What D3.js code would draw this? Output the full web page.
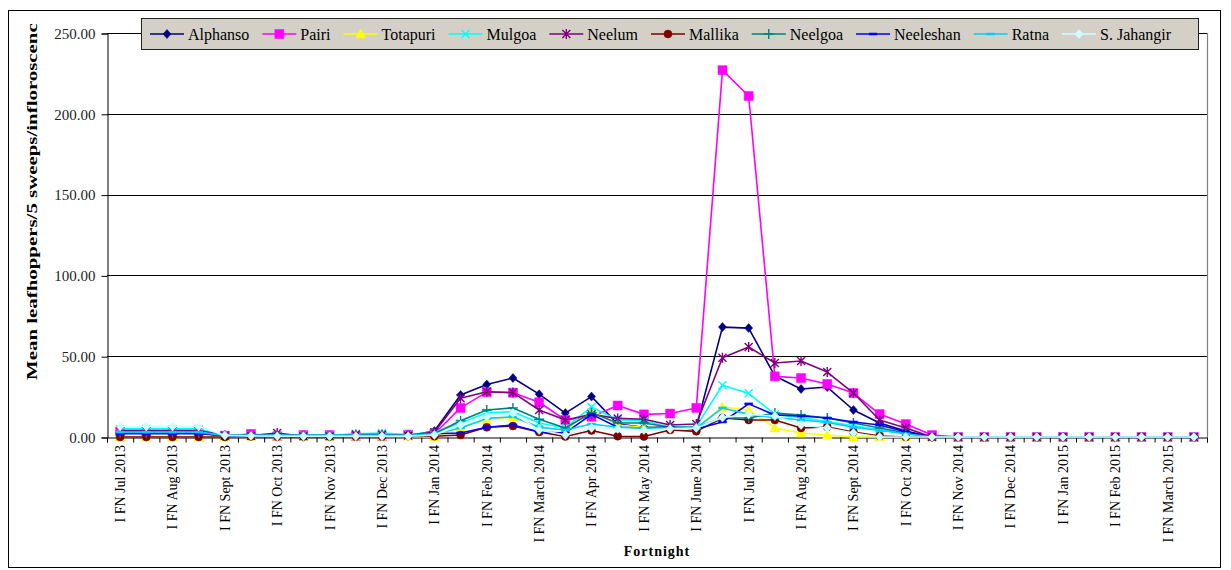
<!DOCTYPE html>
<html><head><meta charset="utf-8">
<script src="https://cdn.jsdelivr.net/npm/d3@7"></script>
<style>
html,body{margin:0;padding:0;background:#fff;}
svg text{font-family:"Times New Roman","Liberation Serif","DejaVu Serif",serif !important;}
</style></head>
<body><svg id="c" width="1231" height="570"></svg>
<script>
const categories = [
 "I FN Jul 2013","II FN Jul 2013","I FN Aug 2013","II FN Aug 2013","I FN Sept 2013","II FN Sept 2013",
 "I FN Oct 2013","II FN Oct 2013","I FN Nov 2013","II FN Nov 2013","I FN Dec 2013","II FN Dec 2013",
 "I FN Jan 2014","II FN Jan 2014","I FN Feb 2014","II FN Feb 2014","I FN March 2014","II FN March 2014",
 "I FN Apr 2014","II FN Apr 2014","I FN May 2014","II FN May 2014","I FN June 2014","II FN June 2014",
 "I FN Jul 2014","II FN Jul 2014","I FN Aug 2014","II FN Aug 2014","I FN Sept 2014","II FN Sept 2014",
 "I FN Oct 2014","II FN Oct 2014","I FN Nov 2014","II FN Nov 2014","I FN Dec 2014","II FN Dec 2014",
 "I FN Jan 2015","II FN Jan 2015","I FN Feb 2015","II FN Feb 2015","I FN March 2015","II FN March 2015"
];
const seriesNames = ["Alphanso","Pairi","Totapuri","Mulgoa","Neelum","Mallika","Neelgoa","Neeleshan","Ratna","S. Jahangir"];
const alphanso  = [2.5,2.5,2.5,2.5,0.5,0.3,0.5,0.3,0.3,0.5,0.5,0.8, 3.7,26,32.5,36.5,26.5,14.8,25,8,6,6,6, 68,67.4,37.7,29.7,30.9,16.7,8.7,3.7,0, 0,0,0,0,0,0,0,0,0,0];
const pairi     = [3.5,3.5,3.5,3.5,0.8,1.9,0.5,1.2,1.2,0.5,0.5,1.5, 2,18,27.8,27.4,21.5,10.5,12.5,19.5,14,14.5,18, 227,211,37.5,36.5,32.8,27.2,14.2,8,1.2, 0,0,0,0,0,0,0,0,0,0];
const totapuri  = [0,0,0,0,0,0.5,0.5,0.5,0.5,0.5,0.5,0.5, 0,6,10.5,12.4,6,4.3,16.7,7.4,6,5.6,5.6, 18.6,16.7,5.6,2.5,1.2,0,0,0,0, 0,0,0,0,0,0,0,0,0,0];
const mulgoa    = [5,5,5,5,1,1,1,1,1,2,2.5,1.5, 3,8.7,15,15.6,8.7,5.6,18.6,10.5,10,6,6.5, 32,27,14,12,9.5,7,4.5,2,0, 0,0,0,0,0,0,0,0,0,0];
const neelum    = [4,4,4,4,1,0.8,2.5,0.5,0.5,1.5,1.5,1, 3,24,28,27.5,16.7,10.5,14,11.5,11,7.4,8, 49,55.7,45.8,47,40.2,27.2,10.5,5.6,0, 0,0,0,0,0,0,0,0,0,0];
const mallika   = [0,0,0,0,0,0.3,0.3,0.3,0.3,0.3,0.3,1, 0.5,1.2,6,6.8,3.1,0.3,4,0.5,0.3,4.3,3.5, 11.8,10.5,10.5,5.6,6.2,3.1,0.6,0,0, 0,0,0,0,0,0,0,0,0,0];
const neelgoa   = [2.5,2.5,2.5,2.5,1,1,1,1,1,1,1,1, 2,10,16.7,18,11,5.6,15,8.7,8.7,6,6, 11.8,11.8,14.8,13.6,11.8,8.7,5.6,2.5,0, 0,0,0,0,0,0,0,0,0,0];
const neeleshan = [2,2,2,2,1,0.5,0.5,0.5,0.5,0.5,0.5,0.5, 2,2.5,6,7.4,3.1,2.5,14,6,5.6,6,5, 9.3,20.5,13.6,13,11.8,9.3,7.4,3.1,0, 0,0,0,0,0,0,0,0,0,0];
const ratna     = [3,3,3,3,1,1,1,1,1,1,1,1, 2,5.6,11.5,12.5,6,4.3,8,6,5.5,5.5,5.5, 18,14,12,10.5,9,6,4,2,0, 0,0,0,0,0,0,0,0,0,0];
const jahangir  = [6.5,6.5,6.5,6.5,1,0.6,0.5,0.5,0.5,0.5,0.5,0.5, 1.2,7.4,12.5,14.8,4.3,1.2,5.6,5,4.3,5,5.6, 12,14,13,7.4,5.6,2.5,0,0,0, 0,0,0,0,0,0,0,0,0,0];
const yTicks = [0,50,100,150,200,250];
const yTitle = "Mean leafhoppers/5 sweeps/infloroscence";
const xTitle = "Fortnight";

const seriesValues = [alphanso,pairi,totapuri,mulgoa,neelum,mallika,neelgoa,neeleshan,ratna,jahangir];
const colors = ["#000080","#FF00FF","#FFFF00","#00FFFF","#800080","#800000","#008080","#0000FF","#00CCFF","#CCFFFF"];
const markers = ["diamond","square","triangle","x","star","circle","plus","dash","dash","diamond"];

const svg = d3.select("#c");
const L = 107, R = 1207, T = 33, B = 437;
const x = d3.scaleBand().domain(categories).range([L,R]).paddingInner(0).paddingOuter(0);
const xb = d3.scaleLinear().domain([0,categories.length]).range([L,R]);
const y = d3.scaleLinear().domain([0,250]).range([B,T]);
const cx = d => x(d) + x.bandwidth()/2;

// outer frame
svg.append("rect").attr("x",8.5).attr("y",10.5).attr("width",1212).attr("height",557)
  .attr("fill","none").attr("stroke","#000").attr("stroke-width",1);

// gridlines
svg.append("g").selectAll("line").data(yTicks.filter(v=>v>0)).join("line")
  .attr("x1",L).attr("x2",R).attr("y1",d=>Math.round(y(d))+0.5).attr("y2",d=>Math.round(y(d))+0.5)
  .attr("stroke","#000").attr("stroke-width",1);
// plot right border
svg.append("line").attr("x1",R+0.5).attr("x2",R+0.5).attr("y1",T).attr("y2",B)
  .attr("stroke","#808080").attr("stroke-width",1.2);

// y axis
const ya = svg.append("g").attr("transform",`translate(${L+0.5},0.5)`)
  .call(d3.axisLeft(y).tickValues(yTicks).tickFormat(d3.format(".2f")).tickSize(6).tickPadding(6));
ya.select(".domain").attr("stroke","#000");
ya.selectAll(".tick line").attr("stroke","#000");
ya.selectAll("text").attr("font-size",15).attr("fill","#222");

// x axis boundary ticks
const xt = svg.append("g").attr("transform",`translate(0,${B+0.5})`)
  .call(d3.axisBottom(xb).tickValues(d3.range(categories.length+1)).tickSize(5).tickFormat(""));
xt.select(".domain").attr("stroke","#000");
xt.selectAll(".tick line").attr("stroke","#000");
// x labels
const xl = svg.append("g").attr("transform",`translate(0,${B})`)
  .call(d3.axisBottom(x).tickSize(0).tickFormat((d,i)=> i%2===0 ? d : ""));
xl.select(".domain").remove();
xl.selectAll("text").attr("font-size",14).attr("fill","#000")
  .attr("transform","rotate(-90)").attr("text-anchor","end").attr("x",-8).attr("y",0).attr("dy","0.35em");

// marker generator
function markerPath(type){
  const s=4;
  switch(type){
    case "diamond": return `M0,${-s-0.5}L${s},0L0,${s+0.5}L${-s},0Z`;
    case "square": return `M${-s-0.5},${-s-0.5}h${2*s+1}v${2*s+1}h${-2*s-1}Z`;
    case "triangle": return `M0,${-s-1}L${s+1},${s}L${-s-1},${s}Z`;
    case "x": return `M${-s},${-s}L${s},${s}M${-s},${s}L${s},${-s}`;
    case "star": return `M${-s},${-s}L${s},${s}M${-s},${s}L${s},${-s}M0,${-s-1}L0,${s+1}`;
    case "circle": return d3.symbol(d3.symbolCircle, 50)();
    case "plus": return `M${-s-1},0L${s+1},0M0,${-s-1}L0,${s+1}`;
    case "dash": return `M${-s},-1h${2*s}v2h${-2*s}Z`;
  }
}
const filled = t => ["diamond","square","triangle","circle","dash"].includes(t);

const line = d3.line().x((d,i)=>cx(categories[i])).y(d=>y(d));
const plot = svg.append("g");
seriesValues.forEach((vals,si)=>{
  const g = plot.append("g");
  g.append("path").attr("d",line(vals)).attr("fill","none").attr("stroke",colors[si])
    .attr("stroke-width",1.6).attr("stroke-linejoin","round");
  g.selectAll("path.m").data(vals).join("path").attr("class","m")
    .attr("transform",(d,i)=>`translate(${cx(categories[i])},${y(d)})`)
    .attr("d",markerPath(markers[si]))
    .attr("fill",filled(markers[si])?colors[si]:"none")
    .attr("stroke",colors[si]).attr("stroke-width",filled(markers[si])?0.5:1.4);
});

// legend
const lg = svg.append("g");
const lgBox = lg.append("rect").attr("x",141.5).attr("y",18.5).attr("height",31)
  .attr("fill","#D4D0C8").attr("stroke","#222").attr("stroke-width",1);
let lx = 150;
seriesNames.forEach((n,si)=>{
  const it = lg.append("g");
  it.append("line").attr("x1",lx).attr("x2",lx+34).attr("y1",34).attr("y2",34)
    .attr("stroke",colors[si]).attr("stroke-width",1.6);
  it.append("path").attr("transform",`translate(${lx+17},34)`).attr("d",markerPath(markers[si]))
    .attr("fill",filled(markers[si])?colors[si]:"none").attr("stroke",colors[si])
    .attr("stroke-width",filled(markers[si])?0.5:1.4);
  const t = it.append("text").attr("x",lx+38).attr("y",34).attr("dy","0.35em")
    .attr("font-size",16).attr("fill","#000").text(n);
  lx = lx + 38 + t.node().getComputedTextLength() + 13;
});
lgBox.attr("width",1198-141);

// axis titles
svg.append("defs").append("clipPath").attr("id","yclip").append("rect")
  .attr("x",10).attr("y",24).attr("width",60).attr("height",520);
svg.append("g").attr("clip-path","url(#yclip)").append("text")
  .attr("transform","translate(37,380) rotate(-90)").attr("text-anchor","start")
  .attr("font-size",15).attr("font-weight","bold").attr("fill","#000")
  .attr("textLength",366).attr("lengthAdjust","spacingAndGlyphs").text(yTitle);
svg.append("text").attr("x",657).attr("y",556).attr("text-anchor","middle")
  .attr("font-size",14).attr("font-weight","bold").attr("letter-spacing",1).attr("fill","#000").text(xTitle);
</script></body></html>
